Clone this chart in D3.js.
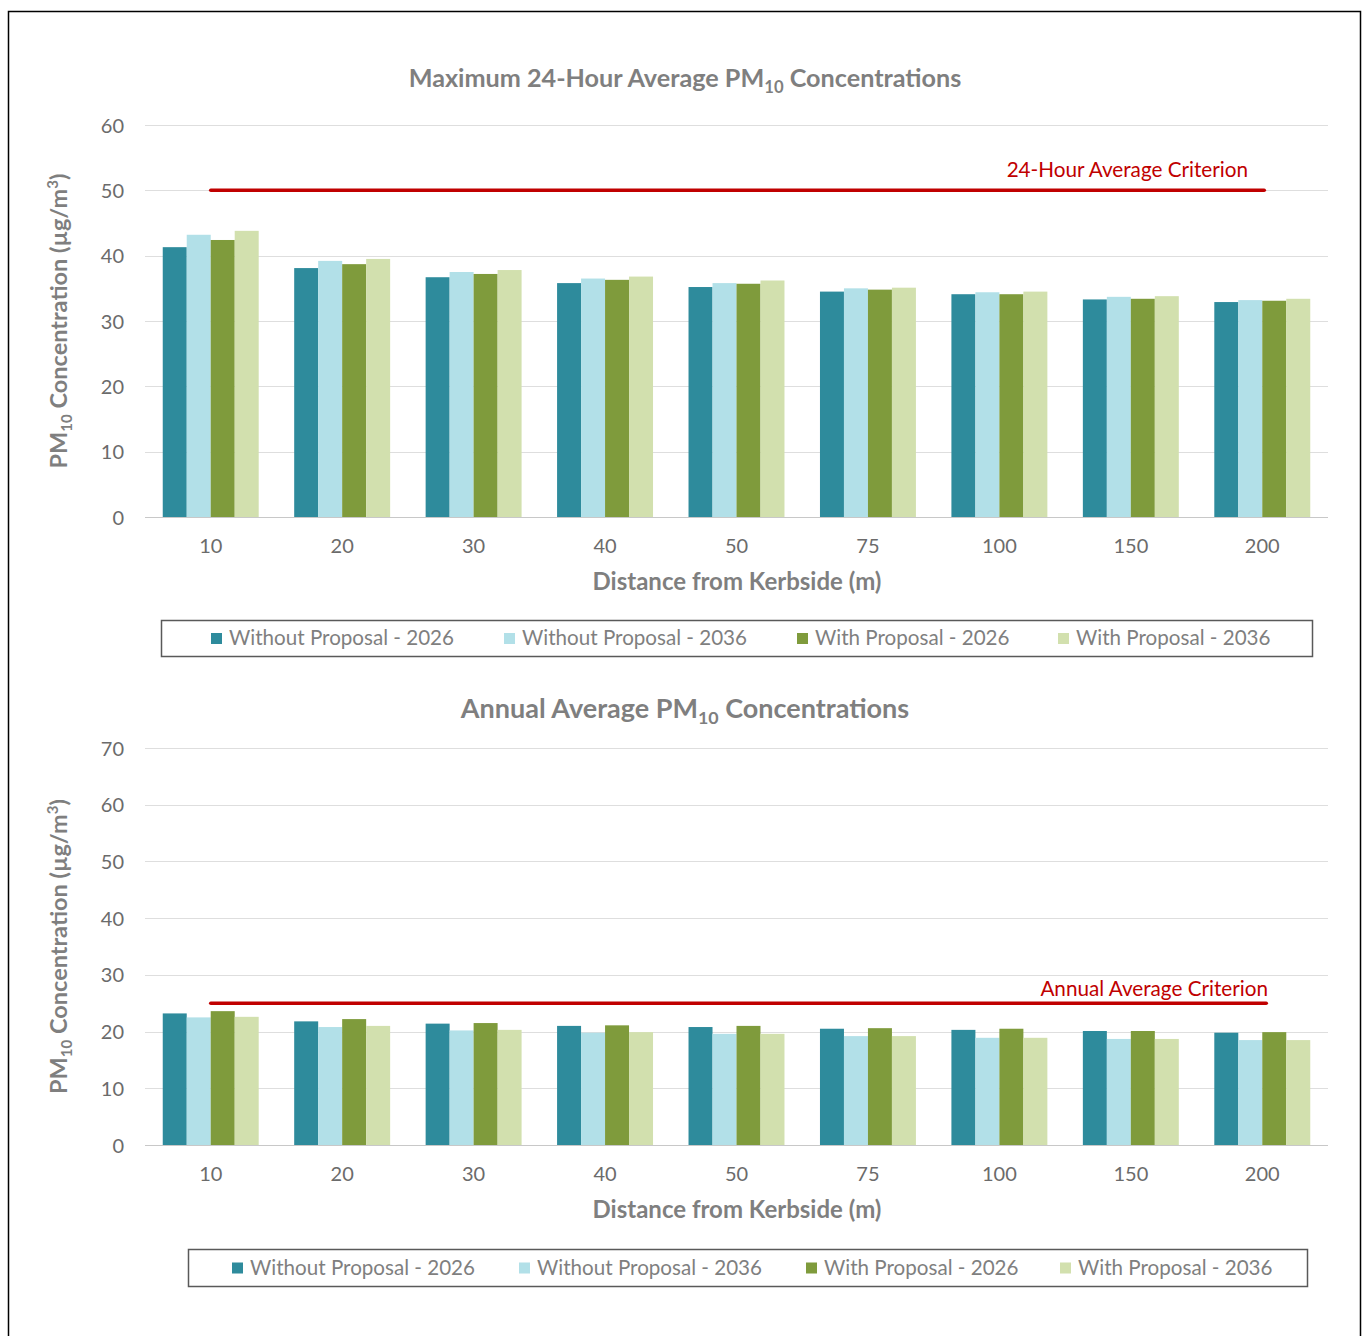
<!DOCTYPE html>
<html>
<head>
<meta charset="utf-8">
<script src="https://cdn.jsdelivr.net/npm/d3@7"></script>
<style>
  html, body { margin: 0; padding: 0; background: #fff; }
  svg { display: block; font-family: Lato, "Open Sans", sans-serif; }
</style>
</head>
<body>
<svg id="chart" width="1366" height="1336"></svg>
<script>
// Distances from the kerb (m)
const distances = ["10", "20", "30", "40", "50", "75", "100", "150", "200"];
const seriesNames = ["Without Proposal - 2026", "Without Proposal - 2036", "With Proposal - 2026", "With Proposal - 2036"];
const seriesColors = ["#2E8B9C", "#B2E0E8", "#7F9B3C", "#D2E0AE"];

// Maximum 24-hour average PM10 (µg/m³)
const max24_without2026 = [41.3, 38.1, 36.7, 35.8, 35.2, 34.5, 34.1, 33.3, 32.9];
const max24_without2036 = [43.2, 39.2, 37.5, 36.5, 35.8, 35.0, 34.4, 33.7, 33.2];
const max24_with2026    = [42.4, 38.7, 37.2, 36.3, 35.7, 34.8, 34.1, 33.4, 33.1];
const max24_with2036    = [43.8, 39.5, 37.8, 36.8, 36.2, 35.1, 34.5, 33.8, 33.4];
const max24Criterion = 50;
const max24Ticks = [0, 10, 20, 30, 40, 50, 60];

// Annual average PM10 (µg/m³)
const annual_without2026 = [23.2, 21.8, 21.4, 21.0, 20.8, 20.5, 20.3, 20.1, 19.8];
const annual_without2036 = [22.5, 20.8, 20.2, 19.8, 19.6, 19.2, 18.9, 18.7, 18.5];
const annual_with2026    = [23.6, 22.2, 21.5, 21.1, 21.0, 20.6, 20.5, 20.1, 19.9];
const annual_with2036    = [22.6, 21.0, 20.3, 19.9, 19.6, 19.2, 18.9, 18.7, 18.5];
const annualCriterion = 25;
const annualTicks = [0, 10, 20, 30, 40, 50, 60, 70];

const svg = d3.select("#chart");
const GRAY = "#7F7F7F";
const TICK_GRAY = "#6B6B6B";
const RED = "#C00000";

// outer frame
svg.append("rect")
  .attr("x", 8.5).attr("y", 11.5)
  .attr("width", 1352).attr("height", 1340)
  .attr("fill", "none").attr("stroke", "#000").attr("stroke-width", 1.5);

function drawChart(cfg) {
  const x0 = d3.scaleBand().domain(distances).range([145, 1328]).paddingInner(0.27).paddingOuter(0.135);
  const x1 = d3.scaleBand().domain(seriesNames.map((d, i) => i)).range([0, x0.bandwidth()]);
  const y = d3.scaleLinear().domain([0, cfg.yMax]).range([cfg.yBottom, cfg.yTop]);

  const g = svg.append("g");

  // title with subscript
  const t = g.append("text")
    .attr("x", 685).attr("y", cfg.titleY)
    .attr("text-anchor", "middle")
    .attr("font-size", cfg.titleSize).attr("font-weight", "bold").attr("fill", GRAY);
  t.append("tspan").text(cfg.titlePre + "PM");
  t.append("tspan").attr("font-size", cfg.titleSize * 0.66).attr("dy", 6).text("10");
  t.append("tspan").attr("dy", -6).text(" Concentrations");

  // gridlines
  g.selectAll(".grid").data(cfg.ticks).join("line")
    .attr("x1", 145).attr("x2", 1328)
    .attr("y1", d => Math.round(y(d)) + 0.5).attr("y2", d => Math.round(y(d)) + 0.5)
    .attr("stroke", d => d === 0 ? "#C8C8C8" : "#DEDEDE").attr("stroke-width", 1.2);

  // y axis
  const yAxis = d3.axisLeft(y).tickValues(cfg.ticks).tickSize(0).tickPadding(0);
  const ya = g.append("g").attr("transform", "translate(124,0)").call(yAxis);
  ya.select(".domain").remove();
  ya.selectAll("text").attr("font-size", 20).attr("fill", TICK_GRAY).attr("font-family", "Lato, sans-serif").attr("dy", "0.35em");

  // x axis
  const xAxis = d3.axisBottom(x0).tickSize(0).tickPadding(0);
  const xa = g.append("g").attr("transform", `translate(0,${cfg.yBottom + 29})`).call(xAxis);
  xa.select(".domain").remove();
  xa.selectAll("text").attr("font-size", 20).attr("fill", TICK_GRAY).attr("font-family", "Lato, sans-serif").attr("dy", "0.35em");

  // x axis title
  g.append("text")
    .attr("x", 737).attr("y", cfg.yBottom + 73)
    .attr("text-anchor", "middle")
    .attr("font-size", 24).attr("font-weight", "bold").attr("fill", GRAY)
    .text("Distance from Kerbside (m)");

  // y axis title
  const yMid = (cfg.yTop + cfg.yBottom) / 2;
  const yt = g.append("text")
    .attr("transform", `translate(67,${yMid}) rotate(-90)`)
    .attr("text-anchor", "middle")
    .attr("font-size", 23.5).attr("font-weight", "bold").attr("fill", GRAY);
  yt.append("tspan").text("PM");
  yt.append("tspan").attr("font-size", 15).attr("dy", 5).text("10");
  yt.append("tspan").attr("dy", -5).text(" Concentration (µg/m");
  yt.append("tspan").attr("font-size", 15).attr("dy", -9).text("3");
  yt.append("tspan").attr("dy", 9).text(")");

  // bars
  const groups = g.selectAll(".grp").data(distances).join("g")
    .attr("transform", d => `translate(${x0(d)},0)`);
  groups.selectAll("rect")
    .data((d, i) => cfg.series.map((s, k) => ({ k, v: s[i] })))
    .join("rect")
    .attr("x", d => x1(d.k))
    .attr("width", x1.bandwidth())
    .attr("y", d => y(d.v))
    .attr("height", d => y(0) - y(d.v))
    .attr("fill", d => seriesColors[d.k]);

  // criterion line
  const cx1 = x0(distances[0]) + x0.bandwidth() / 2;
  const cx2 = x0(distances[distances.length - 1]) + x0.bandwidth() / 2 + cfg.lineExtra;
  g.append("line")
    .attr("x1", cx1).attr("x2", cx2)
    .attr("y1", y(cfg.criterion)).attr("y2", y(cfg.criterion))
    .attr("stroke", RED).attr("stroke-width", 3.5).attr("stroke-linecap", "round");
  g.append("text")
    .attr("x", cfg.critLabelX).attr("y", y(cfg.criterion) - cfg.critLabelGap)
    .attr("text-anchor", "end")
    .attr("font-size", 20.7).attr("fill", RED)
    .text(cfg.critLabel);

  // legend
  const lg = g.append("g");
  lg.append("rect")
    .attr("x", cfg.legend.x + 0.5).attr("y", cfg.legend.y + 0.5)
    .attr("width", cfg.legend.w).attr("height", cfg.legend.h)
    .attr("fill", "#fff").attr("stroke", "#595959").attr("stroke-width", 1.5);
  seriesNames.forEach((name, k) => {
    const sx = cfg.legend.items[k];
    const cy = cfg.legend.y + cfg.legend.h / 2;
    lg.append("rect")
      .attr("x", sx).attr("y", cy - 5)
      .attr("width", 11).attr("height", 11)
      .attr("fill", seriesColors[k]);
    lg.append("text")
      .attr("x", sx + 18).attr("y", cy)
      .attr("dy", "0.36em")
      .attr("font-size", 20.6).attr("fill", GRAY)
      .text(name);
  });
}

drawChart({
  titlePre: "Maximum 24-Hour Average ",
  titleY: 87, titleSize: 25.2,
  yTop: 125, yBottom: 517, yMax: 60,
  ticks: max24Ticks,
  series: [max24_without2026, max24_without2036, max24_with2026, max24_with2036],
  criterion: max24Criterion,
  critLabel: "24-Hour Average Criterion",
  critLabelX: 1248, critLabelGap: 13,
  lineExtra: 2,
  legend: { x: 161, y: 620, w: 1151, h: 36, items: [211, 504, 797, 1058] }
});

drawChart({
  titlePre: "Annual Average ",
  titleY: 718, titleSize: 27,
  yTop: 748, yBottom: 1145, yMax: 70,
  ticks: annualTicks,
  series: [annual_without2026, annual_without2036, annual_with2026, annual_with2036],
  criterion: annualCriterion,
  critLabel: "Annual Average Criterion",
  critLabelX: 1268, critLabelGap: 7,
  lineExtra: 4,
  legend: { x: 188, y: 1249, w: 1119, h: 37, items: [232, 519, 806, 1060] }
});
</script>
</body>
</html>
